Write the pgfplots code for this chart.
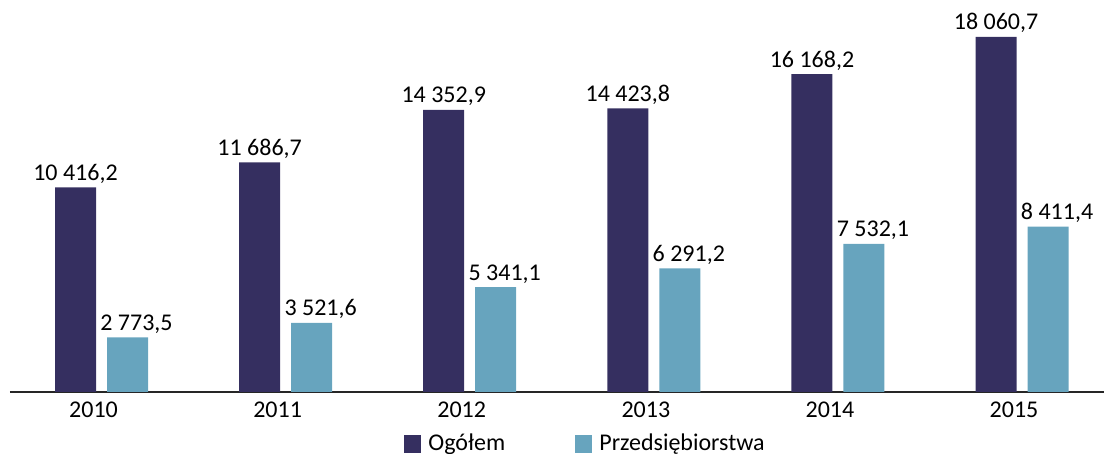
\documentclass[border=0pt]{standalone}
\usepackage{pgfplots}
\pgfplotsset{compat=1.18}
\usepackage{fontspec}
\setmainfont{Carlito}
\definecolor{ogolem}{RGB}{53,47,96}
\definecolor{przeds}{RGB}{103,164,190}
\begin{document}
\begin{tikzpicture}
    \begin{axis}[
        scale only axis,
        width=547pt,
        height=196pt,
        xmin=-0.497, xmax=5.445,
        ymin=0, ymax=19943,
        axis x line=bottom,
        axis y line=none,
        axis line style={-, line width=0.8pt, black!85},
        ybar,
        bar width=20.5pt,
        xtick={0,...,5},
        xticklabels={2010,2011,2012,2013,2014,2015},
        major tick length=0pt,
        xticklabel style={anchor=base, yshift=-13pt, xshift=-4pt,
            font=\fontsize{12}{14}\selectfont},
        point meta=explicit symbolic,
        nodes near coords,
        every node near coord/.append style={anchor=base, yshift=3.5pt,
            inner sep=0pt, font=\fontsize{12}{14}\selectfont, black},
        legend columns=2,
        legend style={draw=none, fill=none, inner sep=0pt,
            at={(axis description cs:0.360,0)}, yshift=-26pt, anchor=west,
            font=\fontsize{12}{14}\selectfont,
            /tikz/every odd column/.append style={column sep=1.5pt},
            /tikz/every even column/.append style={column sep=33pt}},
        legend image code/.code={\fill[#1] (0pt,-4.3pt) rectangle (8.6pt,4.3pt);},
    ]
        \addplot[fill=ogolem, draw=none, bar shift=-13pt]
        coordinates {
            (0,10416.2) [10 416,2]
            (1,11686.7) [11 686,7]
            (2,14352.9) [14 352,9]
            (3,14423.8) [14 423,8]
            (4,16168.2) [16 168,2]
            (5,18060.7) [18 060,7]
        };
        \addlegendentry{Ogółem}
        \addplot[fill=przeds, draw=none, bar shift=13pt,
            every node near coord/.append style={xshift=4.5pt}]
        coordinates {
            (0,2773.5) [2 773,5]
            (1,3521.6) [3 521,6]
            (2,5341.1) [5 341,1]
            (3,6291.2) [6 291,2]
            (4,7532.1) [7 532,1]
            (5,8411.4) [8 411,4]
        };
        \addlegendentry{Przedsiębiorstwa}
    \end{axis}
    \pgfresetboundingbox
    \path[use as bounding box] ([xshift=-5pt,yshift=-31pt]current axis.south west)
        rectangle (current axis.north east);
\end{tikzpicture}
\end{document}
